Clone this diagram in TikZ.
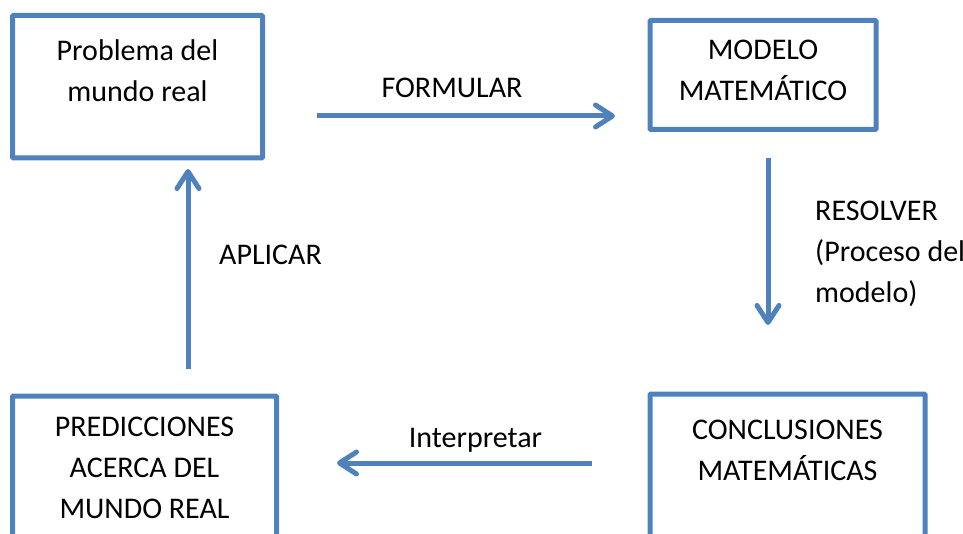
\documentclass[tikz,border=0pt]{standalone}
\usepackage{fontspec}
\setmainfont{Carlito}
\usetikzlibrary{positioning}
\usetikzlibrary{calc}
\usetikzlibrary{arrows.meta}
\definecolor{steel}{RGB}{79,129,189}

\begin{document}
\begin{tikzpicture}[x=1pt, y=-1pt,
    box/.style={draw=steel, line width=5pt, rounded corners=1pt, anchor=north west, inner sep=0pt, outer sep=0pt},
    txt/.style={align=center, anchor=base, inner sep=0pt, font=\fontsize{30}{41}\selectfont},
    flow/.style={draw=steel, line width=5pt, -{Straight Barb[round, length=17pt, width=22pt]}}]
    \clip (0,0) rectangle (963,534);

    % boxes
    \node (prob) [box, minimum width=250pt, minimum height=142.5pt] at (12.5,15.5) {};
    \node (modelo) [box, minimum width=226pt, minimum height=109pt] at (650,20.5) {};
    \node (pred) [box, minimum width=264pt, minimum height=200pt] at (12.5,396) {};
    \node (concl) [box, minimum width=275pt, minimum height=200pt] at (650,394) {};

    % box texts (base = last line)
    \node (probtxt) [txt] at ($(prob.north)+(0,86.5)$) {Problema del\\mundo real};
    \node (modtxt) [txt] at ($(modelo.north)+(0,80.5)$) {MODELO\\MATEMÁTICO};
    \node (predtxt) [txt] at ($(pred.north)+(0,122)$) {PREDICCIONES\\ACERCA DEL\\MUNDO REAL};
    \node (conctxt) [txt] at ($(concl.north)+(0,86.7)$) {CONCLUSIONES\\MATEMÁTICAS};

    % connectors
    \draw[flow, shorten <=54.5pt, shorten >=35pt] (prob.east |- 0,116) -- (modelo.west |- 0,116);
    \draw[flow, shorten <=28.5pt, shorten >=69pt] (modelo.south -| 768,0) -- (concl.north -| 768,0);
    \draw[flow, shorten <=58pt, shorten >=60.5pt] (concl.west |- 0,463) -- (pred.east |- 0,463);
    \draw[flow, shorten <=27pt, shorten >=11pt] (pred.north -| 188,0) -- (prob.south -| 188,0);

    % labels
    \node (formular) [txt] at (452,97.5) {FORMULAR};
    \node (resolver) [txt, align=left, anchor=base west] at (815,303) {RESOLVER\\(Proceso del\\modelo)};
    \node (interp) [txt] at (475.5,447) {Interpretar};
    \node (aplicar) [txt] at (270.5,264.5) {APLICAR};
\end{tikzpicture}
\end{document}
